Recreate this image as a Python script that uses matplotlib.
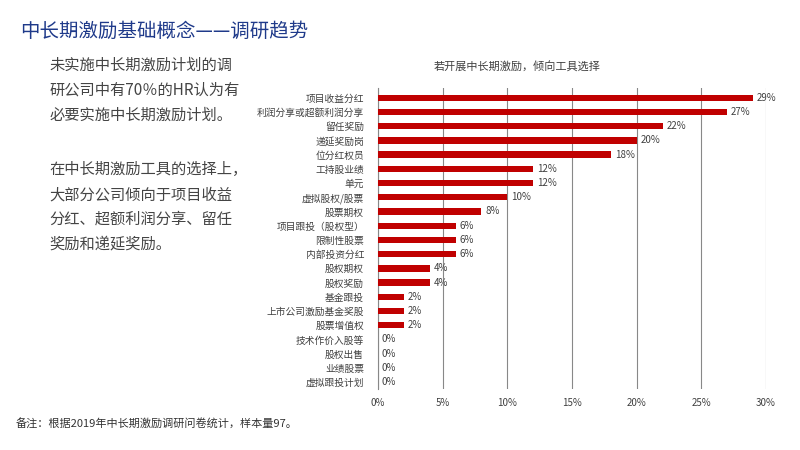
import matplotlib
matplotlib.use("Agg")
import matplotlib.pyplot as plt

plt.rcParams['font.family'] = 'Noto Sans CJK SC'

categories = ["项目收益分红", "利润分享或超额利润分享", "留任奖励", "递延奖励岗", "位分红权员",
              "工持股业绩", "单元", "虚拟股权/股票", "股票期权", "项目跟投（股权型）",
              "限制性股票", "内部投资分红", "股权期权", "股权奖励", "基金跟投",
              "上市公司激励基金奖股", "股票增值权", "技术作价入股等", "股权出售", "业绩股票", "虚拟跟投计划"]
values = [29, 27, 22, 20, 18, 12, 12, 10, 8, 6, 6, 6, 4, 4, 2, 2, 2, 0, 0, 0, 0]
xticks = [0, 5, 10, 15, 20, 25, 30]

fig = plt.figure(figsize=(8, 4.5), dpi=100)
fig.text(0.025, 0.93, "中长期激励基础概念——调研趋势", fontsize=14, color="#1f3a8a", va="center")
fig.text(0.062, 0.80, "未实施中长期激励计划的调\n研公司中有70％的HR认为有\n必要实施中长期激励计划。",
         fontsize=11, color="#444444", va="center", linespacing=1.6)
fig.text(0.062, 0.54, "在中长期激励工具的选择上，\n大部分公司倾向于项目收益\n分红、超额利润分享、留任\n奖励和递延奖励。",
         fontsize=11, color="#444444", va="center", linespacing=1.6)
fig.text(0.02, 0.06, "备注：根据2019年中长期激励调研问卷统计，样本量97。", fontsize=8, color="#333333", va="center")
fig.text(0.646, 0.85, "若开展中长期激励，倾向工具选择", fontsize=8, color="#404040", ha="center", va="center")

ax = fig.add_axes([0.4725, 0.135, 0.485, 0.67])
y = list(range(len(categories)))
ax.barh(y, values, height=0.45, color="#c00000", zorder=3)
for yi, v in zip(y, values):
    ax.text(v + 0.3, yi, f"{v}%", va="center", fontsize=7, color="#404040")
ax.set_yticks(y)
ax.set_yticklabels(categories, fontsize=7, color="#404040")
ax.set_ylim(len(categories) - 0.5, -0.7)
ax.set_xlim(0, 30)
ax.set_xticks(xticks)
ax.set_xticklabels([f"{t}%" for t in xticks], fontsize=7, color="#404040")
ax.grid(axis="x", color="#888888", linewidth=0.8, zorder=0)
for s in ["top", "right", "bottom"]:
    ax.spines[s].set_visible(False)
ax.spines["left"].set_color("#888888")
ax.tick_params(axis="y", length=0, pad=10)
ax.tick_params(axis="x", length=0, pad=6)
fig.savefig("out.png")
